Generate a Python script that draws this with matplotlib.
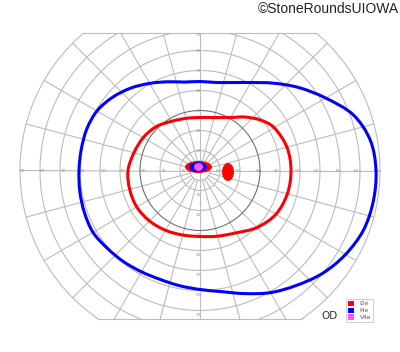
import numpy as np
import matplotlib
matplotlib.use("Agg")
import matplotlib.pyplot as plt
from matplotlib.patches import Ellipse, Patch, Rectangle, PathPatch
from matplotlib.path import Path

# isopters: meridian (deg, 0 = right, 90 = up) and eccentricity (deg)
i4e_meridian = list(range(0, 360, 10))
i4e_ecc = [88, 86.5, 81.5, 72.5, 64.5, 57, 50.8, 46.8, 44.7, 44.5,
           44.9, 47.2, 50.3, 53.8, 57, 59.5, 60.3, 60.3, 60.5, 61,
           61.5, 61.8, 60.5, 59.5, 58.5, 58, 58.5, 59.5, 61.5, 65.5,
           70.5, 75, 80, 84, 87, 88]

i2e_meridian = [0, 15, 30, 40, 50, 60, 75, 90, 105, 120, 135, 150, 165,
                180, 195, 210, 225, 240, 255, 270, 285, 300, 315, 330, 345]
i2e_ecc = [45.5, 45, 42.8, 39.3, 34.9, 30.6, 27.4, 26.5, 27, 28.4, 31, 32.8, 34.2,
           36, 36.4, 36.5, 35.7, 34.5, 33.4, 33, 34, 36, 40.3, 43.8, 45.2]

# scotomas: centre and size in degrees
spot_stim = ["I2e", "I4e", "V4e", "I2e"]
spot_x = [-0.75, -1.0, -0.75, 14.0]
spot_y = [1.75, 1.75, 1.75, -0.75]
spot_w = [13.5, 9.0, 4.5, 6.0]
spot_h = [6.0, 5.0, 4.0, 9.0]

stimuli = ["I2e", "I4e", "V4e"]
ring_labels = [10, 20, 30, 40, 50, 60, 70, 80, 90]
vert_labels = [10, 20, 30, 40, 50, 60, 70]
top_cut, bottom_cut = 69, -74

colors = {"I2e": "#ff0000", "I4e": "#0000ff", "V4e": "#ff55ff"}


def isopter_path(meridian, ecc):
    # closed smooth curve through the recorded points (catmull-rom as bezier)
    th = np.radians(meridian)
    r = np.asarray(ecc, dtype=float)
    p = np.column_stack([r * np.cos(th), r * np.sin(th)])
    n = len(p)
    verts = [p[0]]
    codes = [Path.MOVETO]
    for i in range(n):
        p0, p1, p2, p3 = p[i - 1], p[i], p[(i + 1) % n], p[(i + 2) % n]
        verts += [p1 + (p2 - p0) / 6, p2 - (p3 - p1) / 6, p2]
        codes += [Path.CURVE4] * 3
    return Path(verts, codes)


fig = plt.figure(figsize=(4, 3.52), dpi=100)
ax = fig.add_axes([0, 0, 1, 1])
ax.set_xlim(-100, 100)
ax.set_ylim(-90.75, 85.25)
ax.set_aspect("equal")
ax.axis("off")

clip = Rectangle((-95, bottom_cut), 190, top_cut - bottom_cut, transform=ax.transData,
                 facecolor="none", edgecolor="none")
ax.add_patch(clip)

grid_kw = dict(color="#bcbcbc", lw=0.8, zorder=1)
t = np.linspace(0, 2 * np.pi, 400)
for r in [5] + ring_labels:
    col = "#707070" if r == 30 else "#bcbcbc"
    ln, = ax.plot(r * np.cos(t), r * np.sin(t), color=col, lw=0.8, zorder=1.5 if r == 30 else 1)
    ln.set_clip_path(clip)
for m in range(0, 360, 15):
    th = np.radians(m)
    r0 = 0 if m % 90 == 0 else 5
    ln, = ax.plot([r0 * np.cos(th), 90 * np.cos(th)], [r0 * np.sin(th), 90 * np.sin(th)], **grid_kw)
    ln.set_clip_path(clip)
for yc in (top_cut, bottom_cut):
    half = np.sqrt(90 ** 2 - yc ** 2)
    ax.plot([-half, half], [yc, yc], **grid_kw)

lab_kw = dict(fontsize=3.2, color="#9a9a9a", ha="center", va="center", zorder=2)
for r in ring_labels:
    ax.text(-r + 1.5, 0, str(r), **lab_kw)
    ax.text(r - 1.5, 0, str(r), **lab_kw)
for r in vert_labels:
    ax.text(-0.8, min(r, 67.5), str(r), **lab_kw)
    ax.text(-0.8, -r - 2, str(r), **lab_kw)

ax.add_patch(PathPatch(isopter_path(i4e_meridian, i4e_ecc), facecolor="none",
                       edgecolor=colors["I4e"], lw=2.2, zorder=3))
ax.add_patch(PathPatch(isopter_path(i2e_meridian, i2e_ecc), facecolor="none",
                       edgecolor=colors["I2e"], lw=2.2, zorder=3))

for i, s in enumerate(spot_stim):
    ax.add_patch(Ellipse((spot_x[i], spot_y[i]), spot_w[i], spot_h[i],
                         facecolor=colors[s], edgecolor="none", zorder=4 + i))

handles = [Patch(facecolor=colors[s], edgecolor="none", label=s) for s in stimuli]
leg = fig.legend(handles=handles, loc="lower right", bbox_to_anchor=(373 / 400, 30 / 352),
                 fontsize=4.2, frameon=True, fancybox=False, edgecolor="#bbbbbb",
                 handlelength=1.0, handleheight=1.0, handletextpad=1.0,
                 labelspacing=0.2, borderpad=0.35, borderaxespad=0)
leg.get_frame().set_linewidth(0.6)
for txt in leg.get_texts():
    txt.set_color("#555555")

fig.text(329 / 400, 1 - 316 / 352, "OD", ha="center", va="center", fontsize=7.5, color="#333333")
fig.text(399 / 400, 1 - 9 / 352, "\u00a9StoneRoundsUIOWA", ha="right", va="center",
         fontsize=10, family="Liberation Sans", color="#222222")

fig.savefig("out.png", dpi=100)
